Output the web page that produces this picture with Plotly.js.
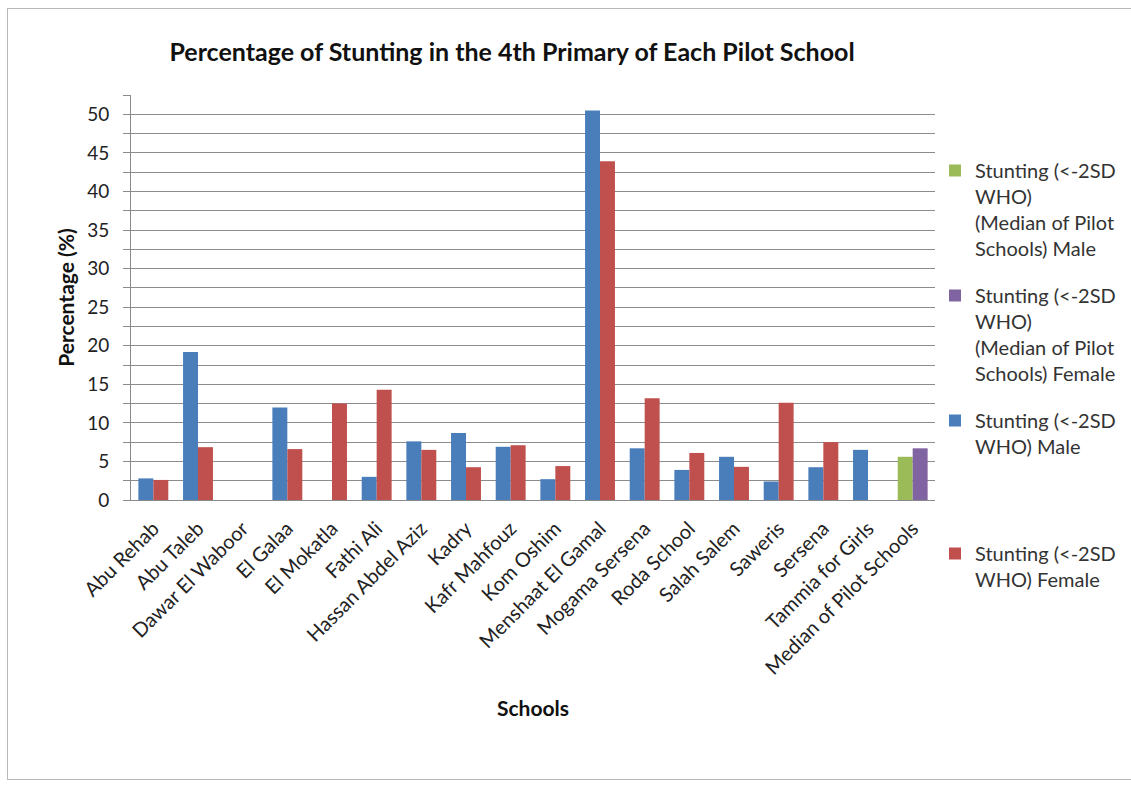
<!DOCTYPE html>
<html>
<head>
<meta charset="utf-8">
<script src="https://cdn.plot.ly/plotly-3.0.1.min.js"></script>
<style>
  html, body { margin: 0; padding: 0; background: #fff; }
  #frame { position: absolute; left: 7px; top: 8px; width: 1130px; height: 772px; border: 1px solid #b8b8b8; box-sizing: border-box; }
  #chart { position: absolute; left: 0; top: 0; width: 1131px; height: 787px; }
</style>
</head>
<body>
<div id="frame"></div>
<div id="chart"></div>
<script>
const schools = ["Abu Rehab", "Abu Taleb", "Dawar El Waboor", "El Galaa", "El Mokatla", "Fathi Ali",
  "Hassan Abdel Aziz", "Kadry", "Kafr Mahfouz", "Kom Oshim", "Menshaat El Gamal", "Mogama Sersena",
  "Roda School", "Salah Salem", "Saweris", "Sersena", "Tammia for Girls", "Median of Pilot Schools"];
const maleStunting   = [2.8, 19.2, null, 12.0, null, 3.0, 7.6, 8.7, 6.9, 2.7, 50.5, 6.7, 3.9, 5.6, 2.4, 4.25, 6.5, null];
const femaleStunting = [2.6, 6.85, null, 6.6, 12.5, 14.3, 6.5, 4.25, 7.1, 4.4, 43.9, 13.2, 6.1, 4.3, 12.6, 7.5, null, null];
const medianCategory = ["Median of Pilot Schools"];
const medianMale = [5.6];
const medianFemale = [6.7];

const labelMedMale = "Stunting (&lt;-2SD<br>WHO)<br>(Median of Pilot<br>Schools) Male";
const labelMedFemale = "Stunting (&lt;-2SD<br>WHO)<br>(Median of Pilot<br>Schools) Female";
const labelMale = "Stunting (&lt;-2SD<br>WHO) Male";
const labelFemale = "Stunting (&lt;-2SD<br>WHO) Female";

const FONT = "Lato, 'Open Sans', sans-serif";
const traces = [
  { type: "bar", name: labelMedMale, x: medianCategory, y: medianMale, offsetgroup: "m",
    marker: { color: "#9BBB59" }, legend: "legend", legendgroup: "g1" },
  { type: "bar", name: labelMedFemale, x: medianCategory, y: medianFemale, offsetgroup: "f",
    marker: { color: "#8064A2" }, legend: "legend", legendgroup: "g2" },
  { type: "bar", name: labelMale, x: schools, y: maleStunting, offsetgroup: "m",
    marker: { color: "#4A7EBB" }, legend: "legend", legendgroup: "g3" },
  { type: "bar", name: labelFemale, x: schools, y: femaleStunting, offsetgroup: "f",
    marker: { color: "#C0504D" }, legend: "legend2", legendgroup: "g4" }
];

const layout = {
  width: 1131, height: 787,
  paper_bgcolor: "rgba(0,0,0,0)", plot_bgcolor: "#fff",
  margin: { l: 131, r: 195, t: 95, b: 287 },
  font: { family: FONT, color: "#222" },
  barmode: "group", bargap: 0.33, bargroupgap: 0,
  title: { text: "<b>Percentage of Stunting in the 4th Primary of Each Pilot School</b>",
    font: { size: 25, family: FONT, color: "#111" },
    x: 512 / 1131, xref: "container", xanchor: "center", y: 1 - 52 / 787, yref: "container", yanchor: "middle" },
  xaxis: {
    type: "category", categoryorder: "array", categoryarray: schools,
    tickangle: -45, tickfont: { size: 20, family: FONT, color: "#222" }, ticklabelstandoff: 8,
    showline: true, linecolor: "#8a8a8a", linewidth: 1, ticks: "", showgrid: false,
    title: { text: "<b>Schools</b>", font: { size: 21, family: FONT, color: "#111" }, standoff: 23 }
  },
  yaxis: {
    range: [0, 52.5], dtick: 5, tick0: 0,
    tickfont: { size: 19, family: FONT, color: "#222" }, ticklabelstandoff: 10,
    showline: true, linecolor: "#8a8a8a", linewidth: 1,
    ticks: "outside", ticklen: 7, tickcolor: "#8a8a8a",
    showgrid: true, gridcolor: "#8c8c8c", gridwidth: 1, zeroline: false,
    minor: { dtick: 2.5, showgrid: true, gridcolor: "#8c8c8c", ticks: "outside", ticklen: 7, tickcolor: "#8a8a8a" },
    title: { text: "<b>Percentage (%)</b>", font: { size: 21, family: FONT, color: "#111" }, standoff: 6 }
  },
  legend: {
    xref: "container", yref: "container",
    x: 935 / 1131, xanchor: "left", y: 1 - 151 / 787, yanchor: "top",
    font: { size: 20, family: FONT, color: "#333" },
    bgcolor: "rgba(0,0,0,0)", tracegroupgap: 18, traceorder: "grouped", itemwidth: 30, valign: "top"
  },
  legend2: {
    xref: "container", yref: "container",
    x: 935 / 1131, xanchor: "left", y: 1 - 534 / 787, yanchor: "top",
    font: { size: 20, family: FONT, color: "#333" },
    bgcolor: "rgba(0,0,0,0)", itemwidth: 30, valign: "top"
  },
  showlegend: true
};

Plotly.newPlot("chart", traces, layout, { displayModeBar: false, staticPlot: true });
</script>
</body>
</html>
